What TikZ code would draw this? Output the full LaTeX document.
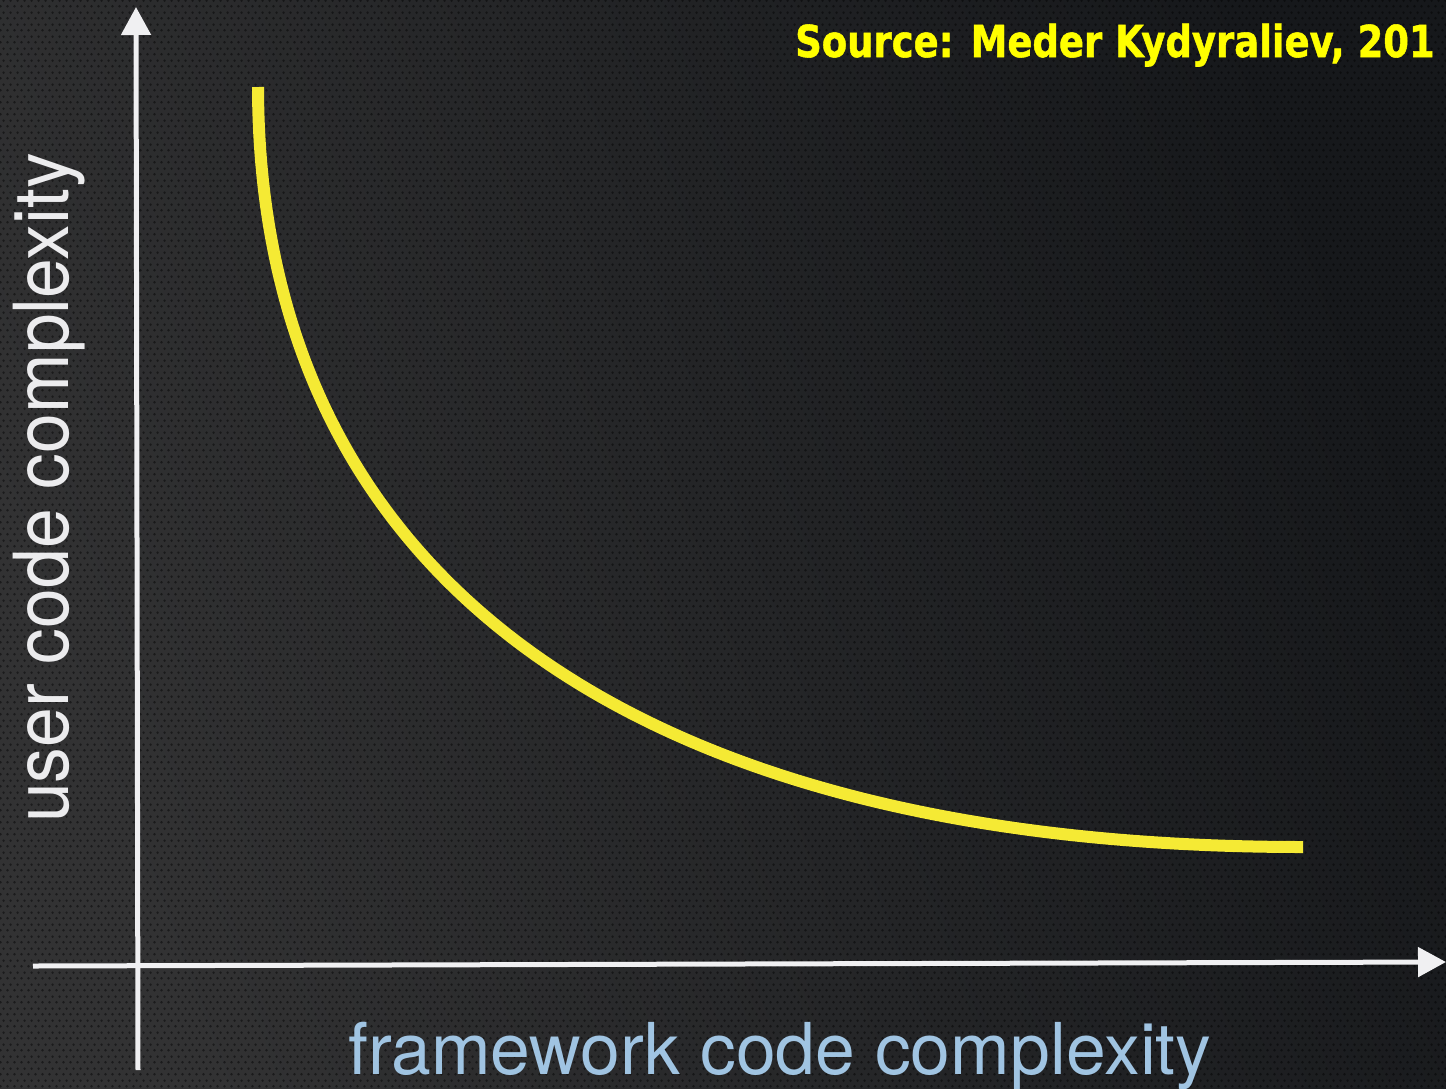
\documentclass[tikz,border=0pt]{standalone}
\usepackage{fontspec}
\usepackage{graphicx}
\usetikzlibrary{arrows.meta,patterns.meta}
\setmainfont{TeX Gyre Heros}
\newfontface\sourcefont{DejaVu Sans Bold}[FakeBold=1.2]

\definecolor{bgLight}{RGB}{50,50,51}
\definecolor{bgDark}{RGB}{22,24,27}
\definecolor{axisGrey}{RGB}{240,240,242}
\definecolor{curveYellow}{RGB}{245,234,52}
\definecolor{labelBlue}{RGB}{160,196,226}
\definecolor{labelWhite}{RGB}{236,236,238}
\definecolor{sourceYellow}{RGB}{255,255,0}

% fine hexagonal mesh of dark dots laid over the background
\tikzdeclarepattern{
  name=meshdots,
  type=uncolored,
  bounding box={(0pt,0pt) and (7pt,12pt)},
  tile size={(7pt,12pt)},
  code={
    \fill (1.75pt,3pt) circle (1.5pt);
    \fill (5.25pt,9pt) circle (1.5pt);
  }
}

\tikzset{
  axisline/.style={draw=axisGrey, line width=5pt,
    -{Triangle[length=28pt,width=29pt]}},
  curveline/.style={draw=curveYellow, line width=12pt, line cap=butt},
  axislabel/.style={inner sep=0pt, font=\fontsize{71.5}{80}\selectfont},
  sourcelabel/.style={inner sep=0pt, text=sourceYellow,
    font=\sourcefont\fontsize{44}{50}\selectfont}
}

\begin{document}
\begin{tikzpicture}[x=1pt,y=-1pt]
  \useasboundingbox (0,0) rectangle (1446,1088);
  \clip (0,0) rectangle (1446,1088);

  % background: dark gradient with a fine mesh texture
  \shade[left color=bgLight, right color=bgDark, shading angle=110]
    (0,0) rectangle (1446,1088);
  \fill[pattern=meshdots, pattern color=black, opacity=0.45]
    (0,0) rectangle (1446,1088);

  % axis end points
  \coordinate (ybottom) at (138,1070);
  \coordinate (ytop) at (136,7);
  \coordinate (xleft) at (33,966);
  \coordinate (xright) at (1446,962);

  % axes
  \draw[axisline] (ybottom) -- (ytop);
  \draw[axisline] (xleft) -- (xright);

  % trade-off curve
  \coordinate (cstart) at (258,87);
  \coordinate (cend) at (1303,847);
  \draw[curveline] (cstart) .. controls (259,590) and (650,847) .. (cend);

  % axis labels
  \node[axislabel, text=labelBlue, anchor=base west] (xlabel) at (348,1074)
    {framework code complexity};
  \node[axislabel, text=labelWhite, anchor=base west, rotate=90] (ylabel)
    at (68,823) {\scalebox{0.94}[1]{\fontsize{76}{84}\selectfont user code complexity}};

  % source note
  \node[sourcelabel, anchor=base west] (source) at (795,57)
    {\scalebox{0.84}[1]{Source: Meder Kydyraliev, 201}};
\end{tikzpicture}
\end{document}
